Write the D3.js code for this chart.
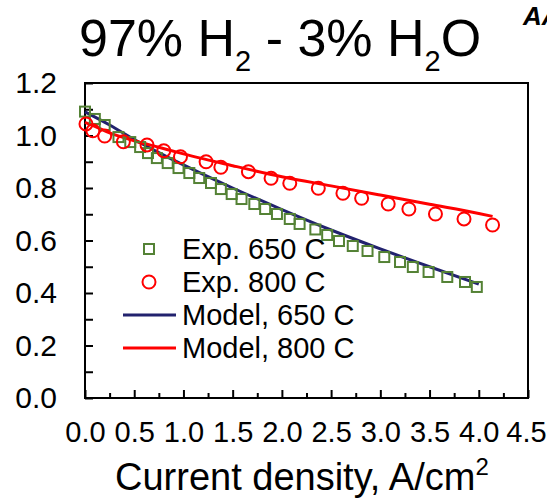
<!DOCTYPE html>
<html>
<head>
<meta charset="utf-8">
<script src="https://cdn.jsdelivr.net/npm/d3@7"></script>
<style>
  body { margin: 0; background: #fff; }
  text { font-family: Arial, "Liberation Sans", sans-serif; }
</style>
</head>
<body>
<script>
// experimental points, 650 C (squares)
let exp650X = [0.00, 0.10, 0.20, 0.34, 0.46, 0.56, 0.64, 0.73, 0.84, 0.95, 1.06, 1.16, 1.28, 1.38, 1.49, 1.59, 1.72, 1.83, 1.95, 2.08, 2.18, 2.34, 2.46, 2.58, 2.72, 2.87, 3.04, 3.20, 3.33, 3.49, 3.68, 3.86, 3.98]
let exp650Y = [1.091, 1.063, 1.040, 0.994, 0.975, 0.956, 0.933, 0.914, 0.895, 0.876, 0.857, 0.838, 0.819, 0.796, 0.777, 0.758, 0.739, 0.720, 0.701, 0.682, 0.663, 0.642, 0.621, 0.598, 0.579, 0.560, 0.537, 0.518, 0.499, 0.480, 0.461, 0.442, 0.423]

// experimental points, 800 C (circles)
let exp800X = [0.01, 0.08, 0.20, 0.39, 0.63, 0.80, 0.97, 1.23, 1.38, 1.66, 1.89, 2.08, 2.37, 2.62, 2.81, 3.08, 3.29, 3.56, 3.85, 4.14]
let exp800Y = [1.044, 1.018, 0.998, 0.976, 0.964, 0.942, 0.919, 0.900, 0.879, 0.862, 0.837, 0.818, 0.799, 0.780, 0.761, 0.739, 0.720, 0.701, 0.682, 0.659]

// model curves
let model650X = [0.00, 0.25, 0.50, 0.75, 1.00, 1.50, 2.00, 2.50, 3.00, 3.50, 4.00]
let model650Y = [1.090, 1.040, 0.985, 0.935, 0.888, 0.800, 0.718, 0.640, 0.568, 0.500, 0.434]
let model800X = [0.00, 0.10, 0.25, 0.50, 0.75, 1.00, 1.50, 2.00, 2.50, 3.00, 3.50, 4.00, 4.14]
let model800Y = [1.050, 1.035, 1.010, 0.980, 0.955, 0.930, 0.885, 0.843, 0.808, 0.773, 0.738, 0.703, 0.692]

let xMajor = [0, 0.5, 1, 1.5, 2, 2.5, 3, 3.5, 4, 4.5]
let xMinor = [0.25, 0.75, 1.25, 1.75, 2.25, 2.75, 3.25, 3.75, 4.25]
let yMajor = [0, 0.2, 0.4, 0.6, 0.8, 1.0, 1.2]
let yMinor = [0.1, 0.3, 0.5, 0.7, 0.9, 1.1]

let legendNames = ["Exp. 650 C", "Exp. 800 C", "Model, 650 C", "Model, 800 C"]

let w = 547
let h = 499
let plotLeft = 85, plotRight = 528, plotTop = 83, plotBottom = 398

let green = "#548235"
let navy = "#22226e"
let red = "#ff0000"

let svg = d3.select("body").append("svg")
  .attr("width", w)
  .attr("height", h)

let x = d3.scaleLinear().domain([0, 4.5]).range([plotLeft, plotRight])
let y = d3.scaleLinear().domain([0, 1.2]).range([plotBottom, plotTop])

// frame
svg.append("rect")
  .attr("x", plotLeft).attr("y", plotTop)
  .attr("width", plotRight - plotLeft).attr("height", plotBottom - plotTop)
  .attr("fill", "none").attr("stroke", "black").attr("stroke-width", 2)

let fmt = d3.format(".1f")

let xAxis = svg.append("g")
  .attr("transform", "translate(0," + plotBottom + ")")
  .call(d3.axisBottom(x).tickValues(xMajor).tickSize(-8).tickPadding(23).tickFormat(fmt))
svg.append("g")
  .attr("transform", "translate(0," + plotBottom + ")")
  .call(d3.axisBottom(x).tickValues(xMinor).tickSize(-5).tickFormat(""))

let yAxis = svg.append("g")
  .attr("transform", "translate(" + plotLeft + ",0)")
  .call(d3.axisLeft(y).tickValues(yMajor).tickSize(-8).tickPadding(28).tickFormat(fmt))
svg.append("g")
  .attr("transform", "translate(" + plotLeft + ",0)")
  .call(d3.axisLeft(y).tickValues(yMinor).tickSize(-8).tickFormat(""))

svg.selectAll(".domain").remove()
svg.selectAll(".tick line").attr("stroke", "black").attr("stroke-width", 2)
svg.selectAll(".tick text").attr("fill", "black")
  .style("font-family", "Arial, 'Liberation Sans', sans-serif")
yAxis.selectAll("text").style("font-size", "30px")
xAxis.selectAll("text").style("font-size", "29px")
// keep the last label inside the page
xAxis.selectAll("text").filter(d => d === 4.5).attr("x", -2)

// model lines
let line = d3.line().x(d => x(d[0])).y(d => y(d[1])).curve(d3.curveMonotoneX)

svg.append("path")
  .datum(d3.zip(model650X, model650Y))
  .attr("d", line)
  .attr("fill", "none").attr("stroke", navy).attr("stroke-width", 3)

svg.append("path")
  .datum(d3.zip(model800X, model800Y))
  .attr("d", line)
  .attr("fill", "none").attr("stroke", red).attr("stroke-width", 3)

// experimental markers
svg.append("g").selectAll("rect")
  .data(d3.zip(exp650X, exp650Y))
  .enter()
  .append("rect")
  .attr("x", d => x(d[0]) - 5)
  .attr("y", d => y(d[1]) - 5)
  .attr("width", 10).attr("height", 10)
  .attr("fill", "none").attr("stroke", green).attr("stroke-width", 2)

svg.append("g").selectAll("circle")
  .data(d3.zip(exp800X, exp800Y))
  .enter()
  .append("circle")
  .attr("cx", d => x(d[0]))
  .attr("cy", d => y(d[1]))
  .attr("r", 6.5)
  .attr("fill", "none").attr("stroke", red).attr("stroke-width", 2)

// legend
let legend = svg.append("g").attr("id", "legend")
let rowY = [249, 282, 315, 348]

legend.append("rect")
  .attr("x", 144).attr("y", rowY[0] - 5)
  .attr("width", 10).attr("height", 10)
  .attr("fill", "none").attr("stroke", green).attr("stroke-width", 2)
legend.append("circle")
  .attr("cx", 149).attr("cy", rowY[1]).attr("r", 6.5)
  .attr("fill", "none").attr("stroke", red).attr("stroke-width", 2)
legend.append("line")
  .attr("x1", 123).attr("x2", 176).attr("y1", rowY[2]).attr("y2", rowY[2])
  .attr("stroke", navy).attr("stroke-width", 3)
legend.append("line")
  .attr("x1", 123).attr("x2", 176).attr("y1", rowY[3]).attr("y2", rowY[3])
  .attr("stroke", red).attr("stroke-width", 3)

legend.selectAll("text")
  .data(legendNames)
  .enter()
  .append("text")
  .text(d => d)
  .attr("x", 182)
  .attr("y", (d, i) => rowY[i] + 10)
  .style("font-size", "29px")

// title
let title = svg.append("text")
  .attr("x", 79).attr("y", 56)
  .style("font-size", "52px")
title.append("tspan").text("97% H")
title.append("tspan").text("2").style("font-size", "29px").attr("dy", 15)
title.append("tspan").text(" - 3% H").attr("dy", -15)
title.append("tspan").text("2").style("font-size", "29px").attr("dy", 15)
title.append("tspan").text("O").attr("dy", -15)

svg.append("text")
  .attr("x", 523).attr("y", 25)
  .style("font-size", "26px").style("font-weight", "bold").style("font-style", "italic")
  .text("AA")

// x axis title
let xTitle = svg.append("text")
  .attr("x", 115).attr("y", 490)
  .style("font-size", "38px")
xTitle.append("tspan").text("Current density, A/cm")
xTitle.append("tspan").text("2").style("font-size", "24px").attr("dy", -15)
</script>
</body>
</html>
